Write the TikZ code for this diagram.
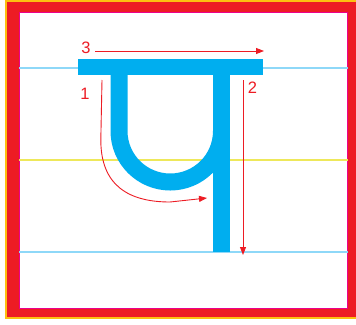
\documentclass[tikz,border=0pt]{standalone}
\usepackage{fontspec}
\setmainfont{Liberation Sans}
\usetikzlibrary{arrows.meta}
\definecolor{frameRed}{HTML}{ED1C24}
\definecolor{frameYel}{HTML}{FDC010}
\definecolor{frameMag}{HTML}{EC008C}
\definecolor{guideBlue}{HTML}{8ED8F8}
\definecolor{guideYel}{HTML}{EEE85A}
\definecolor{glyphBlue}{HTML}{00AEEF}
\tikzset{
  guide/.style={line width=1.4pt},
  glyph/.style={fill=glyphBlue, draw=none},
  stroke/.style={draw=frameRed, line width=0.9pt, -{Triangle[length=8pt,width=6pt]}},
  numlabel/.style={text=frameRed, font=\fontsize{16.5}{18}\selectfont, inner sep=0pt},
}
\begin{document}
\begin{tikzpicture}[x=1pt,y=-1pt]
\useasboundingbox (0,0) rectangle (356,324);
% frame
\fill[frameYel] (5,0) rectangle (360,319);
\fill[frameRed] (7,2) rectangle (360,317);
\fill[white] (19,12) rectangle (347.5,308);
\draw[frameMag, line width=0.8pt] (19,12) rectangle (347.5,308);
% guide lines
\draw[guideBlue, guide] (19,68) -- (347.5,68);
\draw[guideYel, guide] (19,160) -- (347.5,160);
\draw[guideBlue, guide] (19,252) -- (347.5,252);
% glyph
\fill[glyph] (78,59) rectangle (263,75);
\fill[glyph] (213,74) rectangle (230,252);
\draw[glyphBlue, line width=17pt] (119,74) -- (119,131)
  .. controls (119,159.2) and (142,182) .. (170.25,182)
  .. controls (198.5,182) and (221.5,159.2) .. (221.5,131);
% stroke order arrows
\coordinate (s1a) at (102,80);
\coordinate (s1b) at (100.8,140);
\coordinate (s1c) at (170,202);
\coordinate (s1d) at (207,198);
\draw[stroke] (s1a) -- (s1b) .. controls (100.8,185) and (128,202) .. (s1c) -- (s1d);
\coordinate (s2a) at (243,80);
\coordinate (s2b) at (243,255);
\draw[stroke] (s2a) -- (s2b);
\coordinate (s3a) at (95,51);
\coordinate (s3b) at (264,51);
\draw[stroke] (s3a) -- (s3b);
% labels
\node[numlabel] (n3) at (86,48) {3};
\node[numlabel] (n1) at (85,94) {1};
\node[numlabel] (n2) at (252.5,88) {2};
\end{tikzpicture}
\end{document}
